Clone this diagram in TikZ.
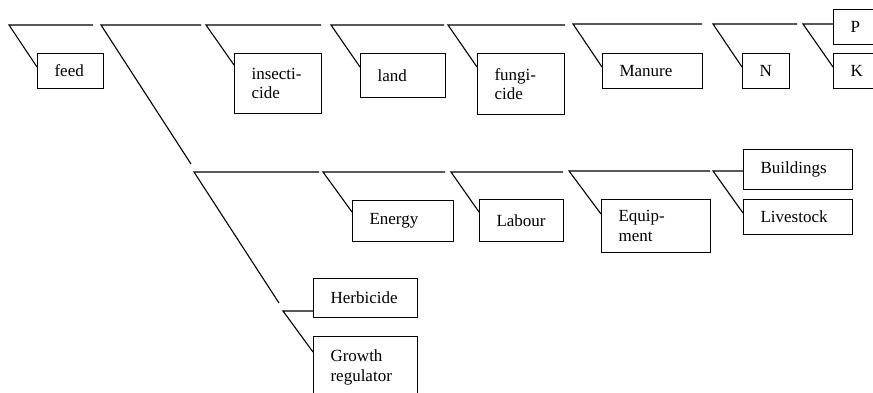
\documentclass[tikz,border=0pt]{standalone}
\usepackage{fontspec}
\setmainfont{Liberation Serif}
\begin{document}
\begin{tikzpicture}[x=1pt,y=-1pt,
  box/.style={draw, line width=1.1pt, anchor=north west, inner xsep=17pt,
    inner ysep=0pt, align=left, font=\fontsize{17}{19.5}\selectfont},
  link/.style={line width=1.1pt},
]
\path[use as bounding box] (0,0) rectangle (873,392);
\clip (0,0) rectangle (873,392);

% ---- boxes, top row ----
\node[box, text width=32pt, minimum height=35pt] (feed) at (37,53) {feed};
\node[box, text width=53pt, minimum height=60pt] (insect) at (234,53) {insecti-\\cide};
\node[box, text width=51pt, minimum height=44pt] (land) at (360,53) {land};
\node[box, text width=53pt, minimum height=61pt] (fungi) at (477,53) {fungi-\\cide};
\node[box, text width=66pt, minimum height=35pt] (manure) at (602,53) {Manure};
\node[box, text width=13pt, minimum height=35pt] (nbox) at (742,53) {N};
\node[box, text width=30pt, minimum height=35pt] (pbox) at (833,9) {P};
\node[box, text width=30pt, minimum height=35pt] (kbox) at (833,53) {K};

% ---- boxes, second row ----
\node[box, text width=67pt, minimum height=41pt] (energy) at (352,200) {Energy};
\node[box, text width=50pt, minimum height=42pt] (labour) at (479,199) {Labour};
\node[box, text width=75pt, minimum height=53pt] (equip) at (601,199) {Equip-\\ment};
\node[box, text width=75pt, minimum height=40pt] (build) at (743,149) {Buildings};
\node[box, text width=75pt, minimum height=35pt] (live) at (743,199) {Livestock};

% ---- boxes, third level ----
\node[box, text width=70pt, minimum height=39pt] (herb) at (313,278) {Herbicide};
\node[box, text width=70pt, minimum height=62pt] (growth) at (313,336) {Growth\\regulator};

% ---- branch points ----
\coordinate (t1) at (9,25);    \coordinate (t1e) at (93,25);
\coordinate (t2) at (101,25);  \coordinate (t2e) at (201,25);
\coordinate (t2d) at (191,164);
\coordinate (t3) at (206,25);  \coordinate (t3e) at (321,25);
\coordinate (t4) at (331,25);  \coordinate (t4e) at (444,25);
\coordinate (t5) at (448,25);  \coordinate (t5e) at (565,25);
\coordinate (t6) at (573,24);  \coordinate (t6e) at (702,24);
\coordinate (t7) at (713,24);  \coordinate (t7e) at (797,24);
\coordinate (t8) at (803,24);

\coordinate (s1) at (194,172); \coordinate (s1e) at (319,172);
\coordinate (s1d) at (279,303);
\coordinate (s2) at (323,172); \coordinate (s2e) at (445,172);
\coordinate (s3) at (451,172); \coordinate (s3e) at (563,172);
\coordinate (s4) at (569,171); \coordinate (s4e) at (710,171);
\coordinate (s5) at (713,171);

\coordinate (h1) at (283,311);

% ---- connectors, top row ----
\draw[link] (t1e) -- (t1) -- ([yshift=-14pt]feed.north west);
\draw[link] (t2e) -- (t2) -- (t2d);
\draw[link] (t3e) -- (t3) -- ([yshift=-12pt]insect.north west);
\draw[link] (t4e) -- (t4) -- ([yshift=-14pt]land.north west);
\draw[link] (t5e) -- (t5) -- ([yshift=-14pt]fungi.north west);
\draw[link] (t6e) -- (t6) -- ([yshift=-14pt]manure.north west);
\draw[link] (t7e) -- (t7) -- ([yshift=-14pt]nbox.north west);
\draw[link] (t8 -| pbox.west) -- (t8) -- ([yshift=-14pt]kbox.north west);

% ---- connectors, second row ----
\draw[link] (s1e) -- (s1) -- (s1d);
\draw[link] (s2e) -- (s2) -- ([yshift=-12pt]energy.north west);
\draw[link] (s3e) -- (s3) -- ([yshift=-13pt]labour.north west);
\draw[link] (s4e) -- (s4) -- ([yshift=-15pt]equip.north west);
\draw[link] (s5 -| build.west) -- (s5) -- ([yshift=-14pt]live.north west);

% ---- connectors, third level ----
\draw[link] (h1 -| herb.west) -- (h1) -- ([yshift=-16pt]growth.north west);
\end{tikzpicture}
\end{document}
